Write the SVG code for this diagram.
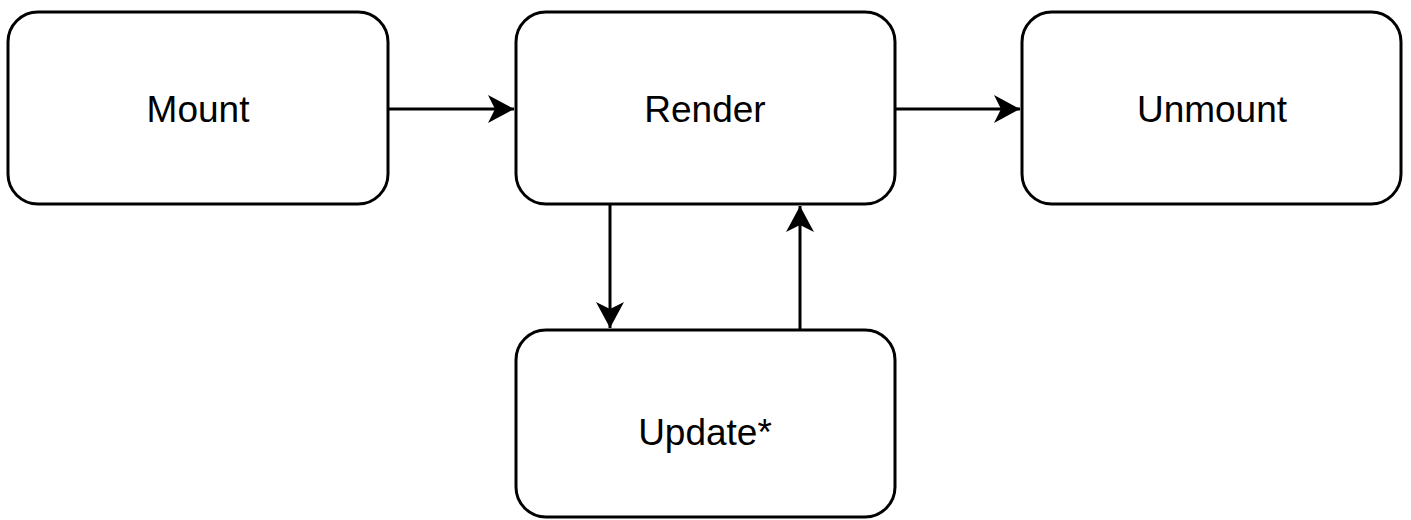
<svg xmlns="http://www.w3.org/2000/svg" width="1411" height="520" viewBox="0 0 1411 520">
<style>
.box{fill:#fff;stroke:#000;stroke-width:3}
.lbl{font-family:"Liberation Sans",Arial,sans-serif;font-size:37px;fill:#000;text-anchor:middle}
.edge{fill:none;stroke:#000;stroke-width:3}
</style>
<defs>
<marker id="arr" markerUnits="userSpaceOnUse" markerWidth="30" markerHeight="30" viewBox="0 0 30 30" refX="26" refY="15" orient="auto">
<path d="M0,1 L26,15 L0,29 L7,15 Z" fill="#000"/>
</marker>
</defs>
<rect width="1411" height="520" fill="#fff"/>
<g id="mount"><rect class="box" x="8" y="12" width="380" height="192" rx="30"/><text class="lbl" x="198" y="122">Mount</text></g>
<g id="render"><rect class="box" x="516" y="12" width="379" height="192" rx="30"/><text class="lbl" x="705" y="122">Render</text></g>
<g id="unmount"><rect class="box" x="1022" y="12" width="379" height="192" rx="30"/><text class="lbl" x="1212" y="122">Unmount</text></g>
<g id="update"><rect class="box" x="516" y="330" width="379" height="187" rx="30"/><text class="lbl" x="705" y="445">Update*</text></g>
<g id="connectors">
<path class="edge" d="M388,109 H514" marker-end="url(#arr)"/>
<path class="edge" d="M895,109 H1020" marker-end="url(#arr)"/>
<path class="edge" d="M610,204 V328" marker-end="url(#arr)"/>
<path class="edge" d="M800,330 V206" marker-end="url(#arr)"/>
</g>
</svg>
